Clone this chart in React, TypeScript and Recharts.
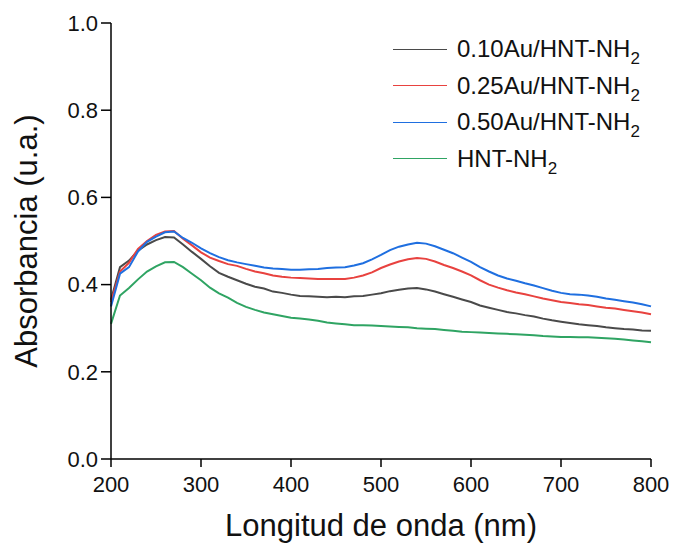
import React from "react";
import {
  LineChart,
  Line,
  XAxis,
  YAxis,
  Legend,
} from "recharts";

const FONT = '"Liberation Sans", Arial, sans-serif';

// wavelength (nm)
const wavelengths = [
  200, 210, 220, 230, 240, 250, 260, 270, 280, 290,
  300, 310, 320, 330, 340, 350, 360, 370, 380, 390,
  400, 410, 420, 430, 440, 450, 460, 470, 480, 490,
  500, 510, 520, 530, 540, 550, 560, 570, 580, 590,
  600, 610, 620, 630, 640, 650, 660, 670, 680, 690,
  700, 710, 720, 730, 740, 750, 760, 770, 780, 790,
  800,
];

const au010 = [
  0.365, 0.44, 0.455, 0.478, 0.492, 0.502, 0.509, 0.508, 0.492, 0.475,
  0.459, 0.442, 0.427, 0.418, 0.41, 0.402, 0.395, 0.391, 0.384, 0.381,
  0.377, 0.374, 0.373, 0.372, 0.371, 0.372, 0.371, 0.373, 0.374, 0.377,
  0.38, 0.385, 0.388, 0.391, 0.392, 0.389, 0.384, 0.378, 0.372, 0.366,
  0.36, 0.352, 0.347, 0.342, 0.337, 0.334, 0.33, 0.327, 0.322, 0.318,
  0.315, 0.312, 0.309, 0.307, 0.305, 0.302, 0.3, 0.298, 0.297, 0.295,
  0.294,
];

const au025 = [
  0.36, 0.43, 0.45, 0.482, 0.5, 0.514, 0.522, 0.523, 0.505, 0.49,
  0.474, 0.462, 0.454, 0.447, 0.443, 0.436, 0.43, 0.426, 0.421, 0.418,
  0.416, 0.415, 0.414, 0.413, 0.413, 0.413, 0.413, 0.416, 0.421, 0.428,
  0.438, 0.446, 0.453, 0.458, 0.461, 0.459, 0.453, 0.445, 0.438, 0.43,
  0.421, 0.41, 0.4, 0.393, 0.387, 0.382, 0.378, 0.373, 0.368, 0.364,
  0.36, 0.358, 0.355, 0.353, 0.35, 0.347, 0.345, 0.342, 0.339, 0.336,
  0.332,
];

const au050 = [
  0.35, 0.425, 0.44, 0.476, 0.498, 0.51, 0.52, 0.522, 0.507, 0.496,
  0.483, 0.472, 0.463, 0.456, 0.451, 0.447, 0.443, 0.439, 0.437, 0.436,
  0.434, 0.434, 0.435, 0.436, 0.438, 0.439, 0.44, 0.444, 0.449, 0.458,
  0.468, 0.479, 0.487, 0.492, 0.496, 0.494, 0.488, 0.48, 0.472, 0.462,
  0.452, 0.44, 0.43, 0.421, 0.414, 0.409, 0.403, 0.398, 0.392, 0.386,
  0.381, 0.378, 0.377, 0.375, 0.372, 0.368, 0.365, 0.362, 0.359, 0.355,
  0.35,
];

const hntNh2 = [
  0.31, 0.375, 0.392, 0.412, 0.43, 0.442, 0.451, 0.452, 0.44, 0.425,
  0.41, 0.393, 0.38, 0.37, 0.358, 0.349, 0.342, 0.336, 0.332, 0.328,
  0.324, 0.322, 0.32, 0.317, 0.313, 0.311, 0.309, 0.307, 0.307, 0.306,
  0.305, 0.304, 0.303, 0.302, 0.3, 0.299, 0.298, 0.296, 0.294, 0.292,
  0.291, 0.29, 0.289, 0.288, 0.287, 0.286, 0.285, 0.284, 0.282, 0.281,
  0.28, 0.28, 0.279, 0.279, 0.278, 0.277, 0.276, 0.274, 0.272, 0.27,
  0.268,
];

const xTicks = [200, 300, 400, 500, 600, 700, 800];
const yTicks = [0, 0.2, 0.4, 0.6, 0.8, 1.0];

const series = [
  { key: "au010", prefix: "0.10Au/", color: "#4a4a4a" },
  { key: "au025", prefix: "0.25Au/", color: "#e8423f" },
  { key: "au050", prefix: "0.50Au/", color: "#1f6fe0" },
  { key: "hnt", prefix: "", color: "#2fa463" },
];

const rows = wavelengths.map((x, i) => ({
  x,
  au010: au010[i],
  au025: au025[i],
  au050: au050[i],
  hnt: hntNh2[i],
}));

function renderLegend() {
  return (
    <div style={{ fontFamily: FONT, fontSize: 24, color: "#111" }}>
      {series.map((s) => (
        <div
          key={s.key}
          style={{ display: "flex", alignItems: "center", height: 36.5, whiteSpace: "nowrap" }}
        >
          <div style={{ width: 54, borderTop: `1.5px solid ${s.color}`, marginRight: 10 }} />
          <span>
            {s.prefix}HNT-NH
            <span style={{ fontSize: 17, position: "relative", top: 7 }}>2</span>
          </span>
        </div>
      ))}
    </div>
  );
}

export default function App() {
  const tick = { fontSize: 22, fill: "#111", fontFamily: FONT };
  return (
    <div style={{ position: "absolute", left: 0, top: 0, background: "#fff" }}>
      <LineChart
        width={673}
        height={543}
        data={rows}
        margin={{ top: 23, right: 22, bottom: 0, left: 0 }}
      >
        <XAxis
          dataKey="x"
          type="number"
          domain={[200, 800]}
          ticks={xTicks}
          height={84}
          tick={tick}
          tickSize={8}
          tickMargin={9}
          axisLine={{ stroke: "#000", strokeWidth: 1.5 }}
          tickLine={{ stroke: "#000", strokeWidth: 1.5 }}
          label={{
            value: "Longitud de onda (nm)",
            position: "insideBottom",
            offset: 7,
            style: { fontSize: 31, fill: "#111", fontFamily: FONT },
          }}
        />
        <XAxis
          xAxisId="top"
          orientation="top"
          dataKey="x"
          type="number"
          domain={[200, 800]}
          height={0}
          tick={false}
          tickLine={false}
          axisLine={{ stroke: "#000", strokeWidth: 1.5 }}
        />
        <YAxis
          type="number"
          domain={[0, 1]}
          ticks={yTicks}
          width={111}
          tick={tick}
          tickSize={10}
          tickMargin={3}
          tickFormatter={(v: number) => v.toFixed(1)}
          axisLine={{ stroke: "#000", strokeWidth: 1.5 }}
          tickLine={{ stroke: "#000", strokeWidth: 1.5 }}
          label={{
            value: "Absorbancia (u.a.)",
            angle: -90,
            position: "insideLeft",
            offset: 26,
            style: { fontSize: 31, fill: "#111", fontFamily: FONT, textAnchor: "middle" },
          }}
        />
        <YAxis
          yAxisId="right"
          orientation="right"
          domain={[0, 1]}
          width={0}
          tick={false}
          tickLine={false}
          axisLine={{ stroke: "#000", strokeWidth: 1.5 }}
        />
        <Legend
          layout="vertical"
          align="center"
          verticalAlign="middle"
          content={renderLegend}
          wrapperStyle={{ top: 31, left: 393, width: "auto" }}
        />
        {series.map((s) => (
          <Line
            key={s.key}
            dataKey={s.key}
            stroke={s.color}
            strokeWidth={2}
            dot={false}
            isAnimationActive={false}
            type="linear"
          />
        ))}
      </LineChart>
    </div>
  );
}
